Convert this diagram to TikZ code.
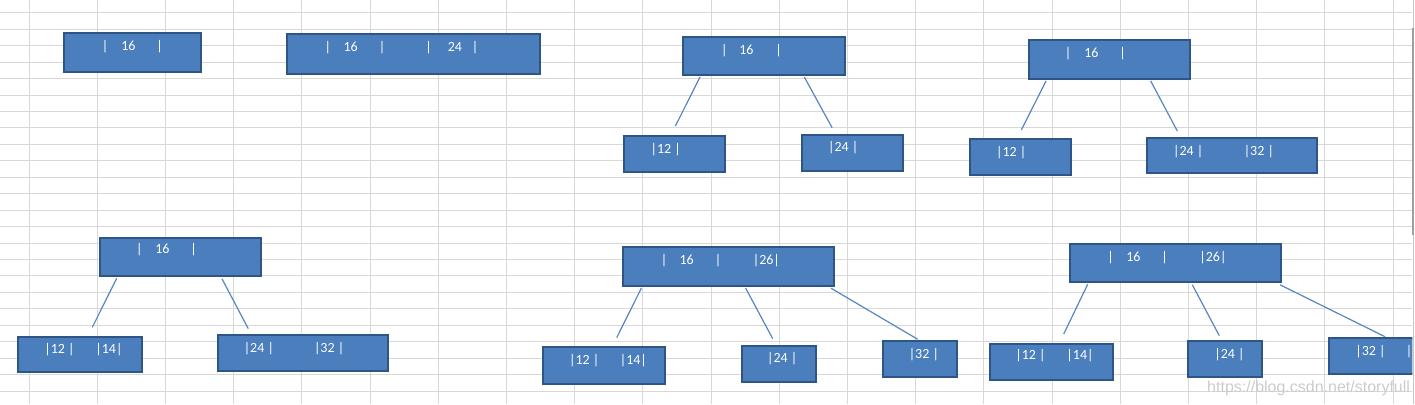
\documentclass[tikz,border=0pt]{standalone}
\usepackage{fontspec}
\setmainfont{Carlito}
\newfontfamily\wmfont{Liberation Sans}
\usetikzlibrary{calc}
\definecolor{boxfill}{HTML}{4A7EBC}
\definecolor{boxedge}{HTML}{2F5586}
\definecolor{linkc}{HTML}{5687C4}
\definecolor{gridc}{HTML}{D8D8D8}
\newcommand\pc[2]{\makebox[0pt][l]{\hspace*{#1pt}\makebox[0pt][c]{#2}}}
\newcommand\bx[5]{\node[bbox, minimum width={(#4-#2-2)*1pt}, minimum height={(#5-#3-2)*1pt}] (#1) at ({(#2+#4)/2},{(#3+#5)/2}) {};}
\tikzset{
  bbox/.style={draw=boxedge, line width=2pt, fill=boxfill, rectangle, inner sep=0pt},
  txt/.style={anchor=base west, inner sep=0pt, text=white, font=\fontsize{14}{16}\selectfont},
  link/.style={draw=linkc, line width=1.2pt},
  gridline/.style={draw=gridc, line width=1pt},
}
\begin{document}
\begin{tikzpicture}[x=1pt,y=-1pt]
\useasboundingbox (0,0) rectangle (1415,404);
\fill[white] (0,0) rectangle (1415,404);
% spreadsheet grid
\foreach \k in {0,...,20} {
  \pgfmathsetmacro\gx{round(28.6+68.2*\k)+0.5}
  \draw[gridline] (\gx,0) -- (\gx,404);
}
\foreach \k in {0,...,23} {
  \pgfmathsetmacro\gy{round(12.3+16.45*\k)+0.5}
  \draw[gridline] (0,\gy) -- (1412,\gy);
}
\draw[draw=gray!45, line width=1.5pt] (1413.3,0) -- (1413.3,404);
\draw[draw=gray!75, line width=2pt] (1413.3,28) -- (1413.3,235);

% boxes
\bx{A1}{63}{32}{202}{73}
\bx{A2}{286}{33.5}{541}{74.5}
\bx{B0}{682}{36}{846}{76}
\bx{B1}{623}{134.7}{726}{173.3}
\bx{B2}{801}{133.7}{904}{172.3}
\bx{C0}{1027.5}{39.3}{1191}{80}
\bx{C1}{968.5}{138}{1072}{176}
\bx{C2}{1146}{137}{1318}{174}
\bx{D0}{99}{236.7}{262}{277.3}
\bx{D1}{17.3}{335.7}{143.3}{373.3}
\bx{D2}{217.3}{334.3}{388.7}{372}
\bx{E0}{622}{246}{835.3}{286.7}
\bx{E1}{541.7}{346}{666}{384.7}
\bx{E2}{740.7}{345}{816.7}{383.3}
\bx{E3}{881.7}{340}{957.7}{378.3}
\bx{F0}{1068.7}{242.7}{1282}{283.3}
\bx{F1}{989}{342.7}{1114}{381}
\bx{F2}{1187.3}{340}{1263.3}{378.3}
\begin{scope}
\clip (1300,300) rectangle (1412.3,404);
\bx{F3}{1328.3}{336.7}{1450}{375}
\node[txt] (tF3) at (1369.8,355.4) {\pc{0}{|32 |}\pc{38.5}{|}};
\end{scope}

% texts
\node[txt] (tA1) at (104.3,50.7) {\pc{0}{|}\pc{23.4}{16}\pc{54.7}{|}};
\node[txt] (tA2) at (327.1,52) {\pc{0}{|}\pc{22.9}{16}\pc{54.3}{|}\pc{100.8}{|}\pc{127.2}{24}\pc{147.2}{|}};
\node[txt] (tB0) at (723.6,54.4) {\pc{0}{|}\pc{22.1}{16}\pc{54.3}{|}};
\node[txt] (tB1) at (665.1,153) {\pc{0}{|12 |}};
\node[txt] (tB2) at (842.5,151.7) {\pc{0}{|24 |}};
\node[txt] (tC0) at (1067.3,57.1) {\pc{0}{|}\pc{23.4}{16}\pc{54.7}{|}};
\node[txt] (tC1) at (1010.5,156.4) {\pc{0}{|12 |}};
\node[txt] (tC2) at (1187.5,155.1) {\pc{0}{|24 |}\pc{70.7}{|32 |}};
\node[txt] (tD0) at (138.7,253.7) {\pc{0}{|}\pc{23}{16}\pc{54.3}{|}};
\node[txt] (tD1) at (58.8,353.7) {\pc{0}{|12 |}\pc{49.5}{|14|}};
\node[txt] (tD2) at (258.2,352.7) {\pc{0}{|24 |}\pc{70.3}{|32 |}};
\node[txt] (tE0) at (663.3,264.4) {\pc{0}{|}\pc{22.7}{16}\pc{54}{|}\pc{102.4}{|26|}};
\node[txt] (tE1) at (583.5,364.4) {\pc{0}{|12 |}\pc{49.2}{|14|}};
\node[txt] (tE2) at (781.5,362.1) {\pc{0}{|24 |}};
\node[txt] (tE3) at (923.2,358.7) {\pc{0}{|32 |}};
\node[txt] (tF0) at (1110,261.1) {\pc{0}{|}\pc{22.7}{16}\pc{54}{|}\pc{102.3}{|26|}};
\node[txt] (tF1) at (1029.8,359.4) {\pc{0}{|12 |}\pc{49.5}{|14|}};
\node[txt] (tF2) at (1228.8,358.7) {\pc{0}{|24 |}};

% free ends of connectors
\coordinate (eB1) at (675.4,126);
\coordinate (eB2) at (832.1,127.7);
\coordinate (eC1) at (1021.3,130);
\coordinate (eC2) at (1177.3,131);
\coordinate (eD1) at (92.3,327.3);
\coordinate (eD2) at (248.3,328.7);
\coordinate (eE1) at (616.7,337.7);
\coordinate (eE2) at (772.7,338.7);
\coordinate (eE3) at (917.7,339.3);
\coordinate (eF1) at (1063.7,334);
\coordinate (eF2) at (1219.3,335.7);
\coordinate (eF3) at (1385,336.7);

% connectors
\draw[link] ($(B0.south west)+(18,1)$) -- (eB1);
\draw[link] ($(B0.south west)+(122.3,1)$) -- (eB2);
\draw[link] ($(C0.south west)+(18.5,1)$) -- (eC1);
\draw[link] ($(C0.south west)+(123.2,1)$) -- (eC2);
\draw[link] ($(D0.south west)+(17.7,1)$) -- (eD1);
\draw[link] ($(D0.south west)+(123,1.5)$) -- (eD2);
\draw[link] ($(E0.south west)+(19.3,1.5)$) -- (eE1);
\draw[link] ($(E0.south west)+(123.7,1.5)$) -- (eE2);
\draw[link] ($(E0.south west)+(209,1.5)$) -- (eE3);
\draw[link] ($(F0.south west)+(19,1)$) -- (eF1);
\draw[link] ($(F0.south west)+(123.6,1.5)$) -- (eF2);
\draw[link] ($(F0.south west)+(211.3,1.5)$) -- (eF3);

% watermark
\node[anchor=base west, inner sep=0pt, text=black!20, font=\wmfont\fontsize{16}{18}\selectfont] (wm) at (1207,392.7) {https://blog.csdn.net/storyfull};
\end{tikzpicture}
\end{document}
